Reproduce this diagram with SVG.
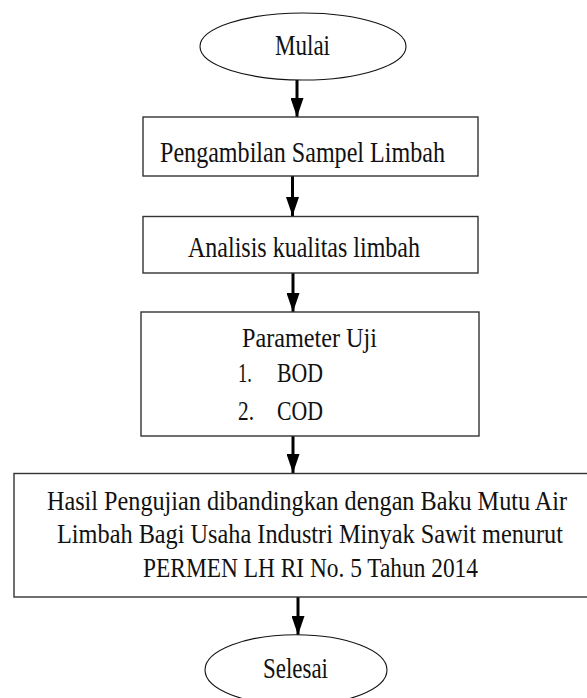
<svg xmlns="http://www.w3.org/2000/svg" width="587" height="698" viewBox="0 0 587 698">
<defs>
<style>
.box{fill:#fff;stroke:#333;stroke-width:1.4}
.term{fill:#fff;stroke:#111;stroke-width:1.1}
text{font-family:"Liberation Serif","DejaVu Serif",serif;fill:#111}
.l{font-size:30px}
.s{font-size:27.5px}
.c{stroke:#000;stroke-width:3;fill:none}
</style>
<marker id="arr" viewBox="0 0 19 13" refX="19" refY="6.5" markerWidth="19" markerHeight="13" markerUnits="userSpaceOnUse" orient="auto">
<path d="M0,0 L19,6.5 L0,13 Z" fill="#000"/>
</marker>
</defs>
<rect width="587" height="698" fill="#fff"/>
<g id="connectors">
<line class="c" x1="297" y1="80" x2="297" y2="117" marker-end="url(#arr)"/>
<line class="c" x1="292.5" y1="176" x2="292.5" y2="216" marker-end="url(#arr)"/>
<line class="c" x1="293" y1="273" x2="293" y2="312" marker-end="url(#arr)"/>
<line class="c" x1="293" y1="436" x2="293" y2="473" marker-end="url(#arr)"/>
<line class="c" x1="298" y1="597" x2="298" y2="635" marker-end="url(#arr)"/>
</g>
<g id="mulai">
<ellipse class="term" cx="303" cy="46.5" rx="103" ry="33.5"/>
<text class="l" font-family="Liberation Serif, serif" x="275" y="55" textLength="55" lengthAdjust="spacingAndGlyphs">Mulai</text>
</g>
<g id="sampel">
<rect class="box" x="143" y="117" width="335" height="59"/>
<text class="l" font-family="Liberation Serif, serif" x="160" y="162" textLength="285" lengthAdjust="spacingAndGlyphs">Pengambilan Sampel Limbah</text>
</g>
<g id="analisis">
<rect class="box" x="143" y="216.5" width="335" height="56.5"/>
<text class="l" font-family="Liberation Serif, serif" x="188" y="257" textLength="232" lengthAdjust="spacingAndGlyphs">Analisis kualitas limbah</text>
</g>
<g id="parameter">
<rect class="box" x="141" y="312" width="338" height="124"/>
<text class="s" font-family="Liberation Serif, serif" x="242" y="347" textLength="135" lengthAdjust="spacingAndGlyphs">Parameter Uji</text>
<text class="s" font-family="Liberation Serif, serif" x="238" y="382" textLength="14" lengthAdjust="spacingAndGlyphs">1.</text>
<text class="s" font-family="Liberation Serif, serif" x="277" y="382" textLength="46" lengthAdjust="spacingAndGlyphs">BOD</text>
<text class="s" font-family="Liberation Serif, serif" x="238" y="420" textLength="16" lengthAdjust="spacingAndGlyphs">2.</text>
<text class="s" font-family="Liberation Serif, serif" x="277" y="420" textLength="46" lengthAdjust="spacingAndGlyphs">COD</text>
</g>
<g id="hasil">
<rect class="box" x="14" y="473.5" width="590" height="123.5"/>
<text class="s" font-family="Liberation Serif, serif" x="47" y="510" textLength="520" lengthAdjust="spacingAndGlyphs">Hasil Pengujian dibandingkan dengan Baku Mutu Air</text>
<text class="s" font-family="Liberation Serif, serif" x="57" y="543" textLength="506" lengthAdjust="spacingAndGlyphs">Limbah Bagi Usaha Industri Minyak Sawit menurut</text>
<text class="s" font-family="Liberation Serif, serif" x="143" y="577" textLength="335" lengthAdjust="spacingAndGlyphs">PERMEN LH RI No. 5 Tahun 2014</text>
</g>
<g id="selesai">
<ellipse class="term" cx="296" cy="670" rx="91" ry="35.3"/>
<text class="l" font-family="Liberation Serif, serif" x="263" y="678" textLength="65" lengthAdjust="spacingAndGlyphs">Selesai</text>
</g>
</svg>
